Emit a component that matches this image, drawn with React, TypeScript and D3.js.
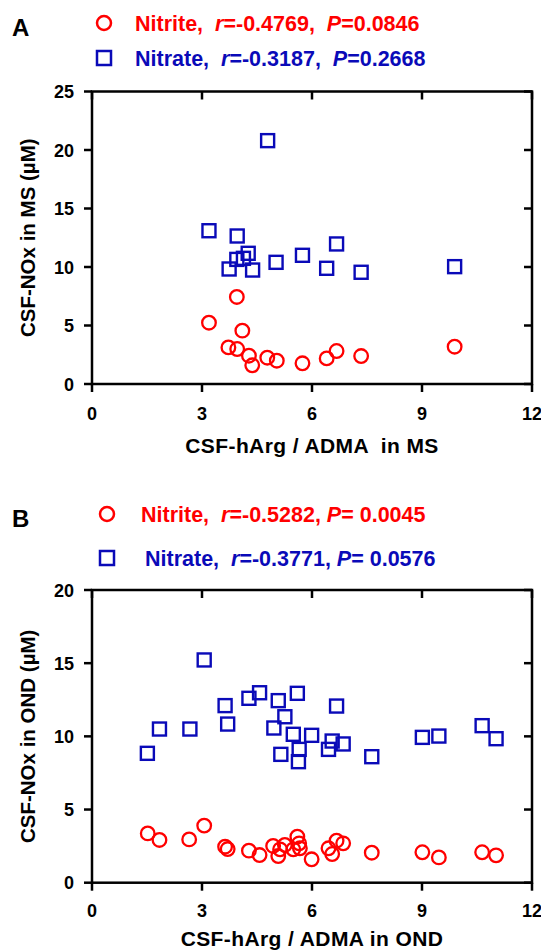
import React from "react";
import * as d3 from "d3";

// ---------- DATA ----------
const xTicks = [0, 3, 6, 9, 12];
const yTicksA = [0, 5, 10, 15, 20, 25];
const yTicksB = [0, 5, 10, 15, 20];

// Panel A (MS)
const nitriteAX = [3.95, 3.19, 4.1, 3.72, 3.96, 4.28, 4.37, 4.78, 5.04, 5.74, 6.4, 6.67, 7.34, 9.89];
const nitriteAY = [7.44, 5.24, 4.56, 3.13, 2.99, 2.42, 1.6, 2.25, 1.99, 1.77, 2.19, 2.82, 2.39, 3.19];
const nitrateAX = [4.79, 3.19, 3.96, 4.26, 6.67, 5.74, 5.02, 3.95, 4.13, 3.74, 4.38, 6.4, 7.34, 9.89];
const nitrateAY = [20.8, 13.1, 12.65, 11.17, 11.97, 11.0, 10.4, 10.65, 10.74, 9.83, 9.74, 9.89, 9.55, 10.03];

// Panel B (OND)
const nitriteBX = [1.52, 1.84, 2.65, 3.06, 3.63, 3.7, 4.28, 4.57, 4.94, 5.08, 5.13, 5.26, 5.6, 5.65, 5.49, 5.67, 5.99, 6.45, 6.55, 6.67, 6.85, 7.63, 9.01, 9.46, 10.64, 11.02];
const nitriteBY = [3.37, 2.92, 2.96, 3.9, 2.46, 2.3, 2.19, 1.89, 2.51, 1.82, 2.28, 2.58, 3.14, 2.69, 2.28, 2.35, 1.6, 2.35, 1.96, 2.87, 2.69, 2.05, 2.08, 1.73, 2.08, 1.87];
const nitrateBX = [3.06, 1.84, 2.67, 1.51, 3.63, 3.7, 4.28, 4.57, 5.08, 5.6, 5.26, 4.96, 5.49, 5.99, 6.67, 6.55, 6.85, 6.45, 5.65, 5.15, 5.63, 7.63, 9.01, 9.46, 10.64, 11.02];
const nitrateBY = [15.22, 10.5, 10.5, 8.84, 12.1, 10.84, 12.6, 12.98, 12.44, 12.94, 11.34, 10.57, 10.14, 10.07, 12.07, 9.68, 9.48, 9.11, 9.11, 8.77, 8.27, 8.61, 9.93, 10.02, 10.73, 9.84];

const legendA = [
  { name: "Nitrite,  ", r: "=-0.4769,  ", p: "=0.0846" },
  { name: "Nitrate,  ", r: "=-0.3187,  ", p: "=0.2668" },
];
const legendB = [
  { name: "Nitrite,  ", r: "=-0.5282, ", p: "= 0.0045" },
  { name: "Nitrate,  ", r: "=-0.3771, ", p: "= 0.0576" },
];

// ---------- STYLE ----------
const RED = "#ff0000";
const BLUE = "#0a0ab8";
const FONT = "'Liberation Sans', Arial, Helvetica, sans-serif";

type PanelProps = {
  top: number;
  bottom: number;
  yMax: number;
  yTicks: number[];
  nX: number[];
  nY: number[];
  qX: number[];
  qY: number[];
  xTitle: string;
  yTitle: string;
  xTitleY: number;
  xTickY: number;
};

const LEFT = 92;
const RIGHT = 532;
const TICK = 8;

function Panel(p: PanelProps) {
  const x = d3.scaleLinear().domain([0, 12]).range([LEFT, RIGHT]);
  const y = d3.scaleLinear().domain([0, p.yMax]).range([p.bottom, p.top]);
  const side = 13;
  return (
    <g>
      <rect x={LEFT} y={p.top} width={RIGHT - LEFT} height={p.bottom - p.top} fill="none" stroke="#000" strokeWidth={2.5} />
      {xTicks.map((t) => (
        <g key={"x" + t}>
          <line x1={x(t)} x2={x(t)} y1={p.bottom} y2={p.bottom + TICK} stroke="#000" strokeWidth={2.5} />
          <line x1={x(t)} x2={x(t)} y1={p.top} y2={p.top + TICK} stroke="#000" strokeWidth={2.5} />
          <text x={x(t)} y={p.xTickY} textAnchor="middle" fontFamily={FONT} fontWeight="bold" fontSize={18}>{t}</text>
        </g>
      ))}
      {p.yTicks.map((t) => (
        <g key={"y" + t}>
          <line x1={LEFT - TICK} x2={LEFT} y1={y(t)} y2={y(t)} stroke="#000" strokeWidth={2.5} />
          <line x1={RIGHT - TICK} x2={RIGHT} y1={y(t)} y2={y(t)} stroke="#000" strokeWidth={2.5} />
          <text x={74} y={y(t) + 6.5} textAnchor="end" fontFamily={FONT} fontWeight="bold" fontSize={18}>{t}</text>
        </g>
      ))}
      {p.qX.map((v, i) => (
        <rect key={"q" + i} x={x(v) - side / 2} y={y(p.qY[i]) - side / 2} width={side} height={side} fill="none" stroke={BLUE} strokeWidth={2.4} />
      ))}
      {p.nX.map((v, i) => (
        <circle key={"n" + i} cx={x(v)} cy={y(p.nY[i])} r={6.8} fill="none" stroke={RED} strokeWidth={2.3} />
      ))}
      <text x={(LEFT + RIGHT) / 2} y={p.xTitleY} textAnchor="middle" fontFamily={FONT} fontWeight="bold" fontSize={21} letterSpacing={0.4} style={{ whiteSpace: "pre" }}>{p.xTitle}</text>
      <text transform={`translate(35,${(p.top + p.bottom) / 2}) rotate(-90)`} textAnchor="middle" fontFamily={FONT} fontWeight="bold" fontSize={20.5}>{p.yTitle}</text>
    </g>
  );
}

function Legend({ items, letter, letterY, rows, markerX, textX }: { items: { name: string; r: string; p: string }[]; letter: string; letterY: number; rows: number[]; markerX: number; textX: number[] }) {
  return (
    <g fontFamily={FONT} fontWeight="bold" fontSize={21.5}>
      <text x={12} y={letterY} fontSize={24}>{letter}</text>
      <circle cx={markerX} cy={rows[0] - 8} r={7} fill="none" stroke={RED} strokeWidth={2.5} />
      <rect x={markerX - 7} y={rows[1] - 15} width={14} height={14} fill="none" stroke={BLUE} strokeWidth={2.5} />
      {items.map((it, i) => (
        <text key={i} x={textX[i]} y={rows[i]} fill={i === 0 ? RED : BLUE} style={{ whiteSpace: "pre" }}>
          <tspan>{it.name}</tspan>
          <tspan fontStyle="italic">r</tspan>
          <tspan>{it.r}</tspan>
          <tspan fontStyle="italic">P</tspan>
          <tspan>{it.p}</tspan>
        </text>
      ))}
    </g>
  );
}

export default function App() {
  return (
    <svg width={541} height={950} style={{ position: "absolute", left: 0, top: 0, background: "#fff" }}>
      <Legend items={legendA} letter="A" letterY={36} rows={[31, 66]} markerX={104} textX={[135, 135]} />
      <Panel top={91.5} bottom={384} yMax={25} yTicks={yTicksA} nX={nitriteAX} nY={nitriteAY} qX={nitrateAX} qY={nitrateAY}
        xTitle="CSF-hArg / ADMA  in MS" yTitle="CSF-NOx in MS (µM)" xTickY={420} xTitleY={453} />
      <Legend items={legendB} letter="B" letterY={527} rows={[522, 566]} markerX={107} textX={[141, 145]} />
      <Panel top={590} bottom={882.7} yMax={20} yTicks={yTicksB} nX={nitriteBX} nY={nitriteBY} qX={nitrateBX} qY={nitrateBY}
        xTitle="CSF-hArg / ADMA in OND" yTitle="CSF-NOx in OND (µM)" xTickY={917} xTitleY={946} />
    </svg>
  );
}
